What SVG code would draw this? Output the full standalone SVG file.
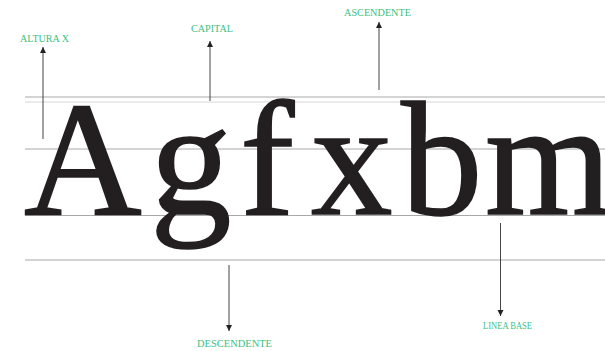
<svg xmlns="http://www.w3.org/2000/svg" width="605" height="351" viewBox="0 0 605 351">
<style>
.guide{stroke:#a8a8a8;stroke-width:1;fill:none}
.guide-light{stroke:#d6d6d6;stroke-width:1;fill:none}
.arrow{stroke:#444;stroke-width:1;fill:none;marker-end:url(#ah)}
.lbl{font-family:"Liberation Serif","Times New Roman",serif;font-size:10px;fill:#3cbf82}
.big{font-family:"Liberation Serif","Times New Roman",serif;font-size:163px;fill:#231f20;stroke:#231f20;stroke-width:1.6}
</style>
<defs>
<marker id="ah" viewBox="0 0 6 8" refX="6" refY="4" markerWidth="6" markerHeight="8" markerUnits="userSpaceOnUse" orient="auto">
<path d="M0,1 L6,4 L0,7 Z" fill="#222"/>
</marker>
</defs>
<rect width="605" height="351" fill="#ffffff"/>
<g id="guides">
<line class="guide" x1="25" y1="97" x2="605" y2="97"/>
<line class="guide-light" x1="25" y1="102" x2="605" y2="102"/>
<line class="guide" x1="25" y1="149" x2="605" y2="149"/>
<line class="guide" x1="25" y1="215.5" x2="605" y2="215.5"/>
<line class="guide" x1="25" y1="260" x2="605" y2="260"/>
</g>
<g id="letters">
<text class="big" y="214"><tspan x="24">A</tspan><tspan x="150">g</tspan><tspan x="240">f</tspan><tspan x="311">x</tspan><tspan x="401">b</tspan><tspan x="485">m</tspan></text>
</g>
<g id="connectors">
<line class="arrow" x1="43" y1="139" x2="43" y2="47"/>
<line class="arrow" x1="210" y1="101" x2="210" y2="41"/>
<line class="arrow" x1="379" y1="90" x2="379" y2="22"/>
<line class="arrow" x1="229" y1="265" x2="229" y2="331"/>
<line class="arrow" x1="500.5" y1="223" x2="500.5" y2="316"/>
</g>
<g id="label-altura"><text class="lbl" x="20" y="42" textLength="49" lengthAdjust="spacingAndGlyphs">ALTURA X</text></g>
<g id="label-capital"><text class="lbl" x="191" y="32" textLength="42" lengthAdjust="spacingAndGlyphs">CAPITAL</text></g>
<g id="label-ascendente"><text class="lbl" x="344" y="16" textLength="67" lengthAdjust="spacingAndGlyphs">ASCENDENTE</text></g>
<g id="label-descendente"><text class="lbl" x="197" y="347" textLength="75" lengthAdjust="spacingAndGlyphs">DESCENDENTE</text></g>
<g id="label-lineabase"><text class="lbl" x="483" y="329" textLength="49" lengthAdjust="spacingAndGlyphs">LINEA BASE</text></g>
</svg>
